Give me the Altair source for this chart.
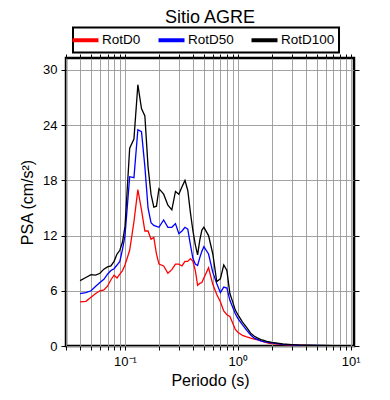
import altair as alt
import pandas as pd

periods = [0.04, 0.045, 0.05, 0.055, 0.06, 0.065, 0.07, 0.075, 0.08, 0.085,
           0.09, 0.095, 0.1, 0.11, 0.12, 0.13, 0.14, 0.15, 0.16, 0.17,
           0.18, 0.19, 0.2, 0.22, 0.24, 0.26, 0.28, 0.3, 0.32, 0.34,
           0.36, 0.38, 0.4, 0.42, 0.44, 0.46, 0.48, 0.5, 0.55, 0.6,
           0.65, 0.7, 0.75, 0.8, 0.85, 0.9, 0.95, 1.0, 1.1, 1.2,
           1.3, 1.4, 1.5, 1.6, 1.7, 1.8, 1.9, 2.0, 2.5, 3.0,
           3.5, 4.0, 5.0, 6.0, 7.0, 8.0, 9.0, 10.0]

rotd0 = [4.8, 4.85, 5.3, 5.7, 6.0, 6.1, 6.5, 7.2, 7.7, 7.4,
         7.8, 8.2, 8.8, 10.4, 13.5, 17.0, 14.8, 12.5, 12.5, 11.6,
         11.8, 10.0, 8.9, 8.7, 7.9, 8.3, 8.9, 8.9, 8.7, 9.2,
         9.2, 9.5, 9.2, 8.2, 6.6, 6.8, 6.9, 7.4, 8.5, 6.7,
         5.6, 4.8, 3.8, 3.4, 3.2, 2.5, 1.8, 1.5, 1.15, 0.98,
         0.85, 0.75, 0.68, 0.55, 0.45, 0.37, 0.3, 0.26, 0.14, 0.1,
         0.08, 0.07, 0.05, 0.04, 0.04, 0.03, 0.03, 0.03]

rotd50 = [5.7, 5.8, 6.0, 6.5, 6.9, 7.25, 7.8, 8.2, 8.4, 8.8,
          9.2, 10.5, 12.0, 18.4, 18.3, 23.5, 23.3, 19.5, 15.0, 13.4,
          13.1, 13.0, 12.9, 13.7, 12.9, 12.9, 13.3, 12.2, 12.5, 12.9,
          12.7, 11.0, 9.5, 8.9, 8.75, 9.6, 10.3, 10.8, 10.0, 8.0,
          6.8, 5.8, 6.4, 6.3, 4.96, 4.2, 3.5, 3.0, 2.3, 1.7,
          1.2, 0.85, 0.7, 0.55, 0.48, 0.43, 0.38, 0.33, 0.18, 0.12,
          0.08, 0.07, 0.06, 0.05, 0.04, 0.04, 0.03, 0.03]

rotd100 = [7.1, 7.45, 7.75, 7.7, 7.9, 8.35, 8.6, 8.7, 9.2, 10.0,
           10.4, 11.3, 13.0, 21.5, 22.5, 28.4, 25.8, 25.0, 19.5, 16.5,
           15.1, 15.2, 17.1, 16.5, 15.3, 14.8, 16.8, 16.5, 17.3, 18.0,
           16.9, 14.5, 12.5, 11.0, 9.9, 11.5, 12.6, 12.9, 12.0, 10.0,
           7.0, 7.3, 8.8, 8.2, 5.7, 4.8, 3.9, 3.4, 2.6, 2.0,
           1.4, 1.05, 0.85, 0.7, 0.6, 0.5, 0.45, 0.4, 0.22, 0.15,
           0.1, 0.08, 0.07, 0.06, 0.05, 0.04, 0.04, 0.03]

series_names = ["RotD0", "RotD50", "RotD100"]
series_colors = ["#ff0000", "#0000ff", "#000000"]
x_ticks = [0.03, 0.04, 0.05, 0.06, 0.07, 0.08, 0.09,
           0.1, 0.2, 0.3, 0.4, 0.5, 0.6, 0.7, 0.8, 0.9,
           1, 2, 3, 4, 5, 6, 7, 8, 9, 10]
y_ticks = [0, 6, 12, 18, 24, 30]

rows = []
for name, vals in zip(series_names, [rotd0, rotd50, rotd100]):
    for p, v in zip(periods, vals):
        rows.append({"period": p, "psa": v, "serie": name})
df = pd.DataFrame(rows)

FONT = "Liberation Sans"
xscale = alt.Scale(type="log", domain=[0.03, 10.7], nice=False)
yscale = alt.Scale(domain=[0, 31.3], nice=False, zero=False)

label_expr = ("datum.value == 0.1 ? '10\u207b\u00b9' : datum.value == 1 ? '10\u2070' : "
              "datum.value == 10 ? '10\u00b9' : ''")

lines = alt.Chart(df).mark_line(strokeWidth=1.3, clip=True).encode(
    x=alt.X("period:Q", scale=xscale,
            axis=alt.Axis(orient="bottom", values=x_ticks, labelExpr=label_expr,
                          title="Periodo (s)", grid=True, tickSize=4,
                          labelFontSize=13, labelPadding=5, titleFontSize=16,
                          titlePadding=4, labelFlush=False, labelOverlap=False)),
    y=alt.Y("psa:Q", scale=yscale,
            axis=alt.Axis(orient="left", values=y_ticks, title="PSA (cm/s\u00b2)",
                          grid=True, tickSize=5, labelFontSize=13, labelPadding=4,
                          titleFontSize=16, titlePadding=7)),
    color=alt.Color("serie:N",
                    scale=alt.Scale(domain=series_names, range=series_colors),
                    legend=alt.Legend(orient="none", legendX=7, legendY=-30.5,
                                      direction="horizontal", title=None,
                                      symbolType="M-2,0H2", symbolSize=169,
                                      symbolStrokeWidth=4, labelFontSize=13.5,
                                      labelOffset=8, columnPadding=9,
                                      gridAlign="each",
                                      padding=4, strokeColor="black",
                                      labelFont=FONT)),
)

ghost = alt.Chart(df).mark_line(opacity=0).encode(
    x=alt.X("period:Q", scale=xscale,
            axis=alt.Axis(orient="top", values=x_ticks, labels=False, title=None,
                          grid=False, tickSize=4)),
    y=alt.Y("psa:Q", scale=yscale,
            axis=alt.Axis(orient="right", values=y_ticks, labels=False, title=None,
                          grid=False, tickSize=5)),
    detail="serie:N",
)

chart = alt.layer(lines, ghost).resolve_axis(
    x="independent", y="independent"
).properties(
    width=288, height=288,
    title=alt.TitleParams("Sitio AGRE", fontSize=18, font=FONT, fontWeight="normal",
                          anchor="middle", offset=0, color="black"),
    autosize=alt.AutoSizeParams(type="none"),
    padding={"left": 58, "top": 50, "right": 28, "bottom": 46},
).configure_view(
    stroke="black", strokeWidth=2.5
).configure_axis(
    domain=False, gridColor="#999999", gridWidth=0.9, tickColor="black",
    tickWidth=1, labelColor="black", titleColor="black", labelFont=FONT,
    titleFont=FONT, titleFontWeight="normal"
).configure_legend(
    strokeWidth=2
)

chart.save("out.html", embed_options={"renderer": "svg", "actions": False})
